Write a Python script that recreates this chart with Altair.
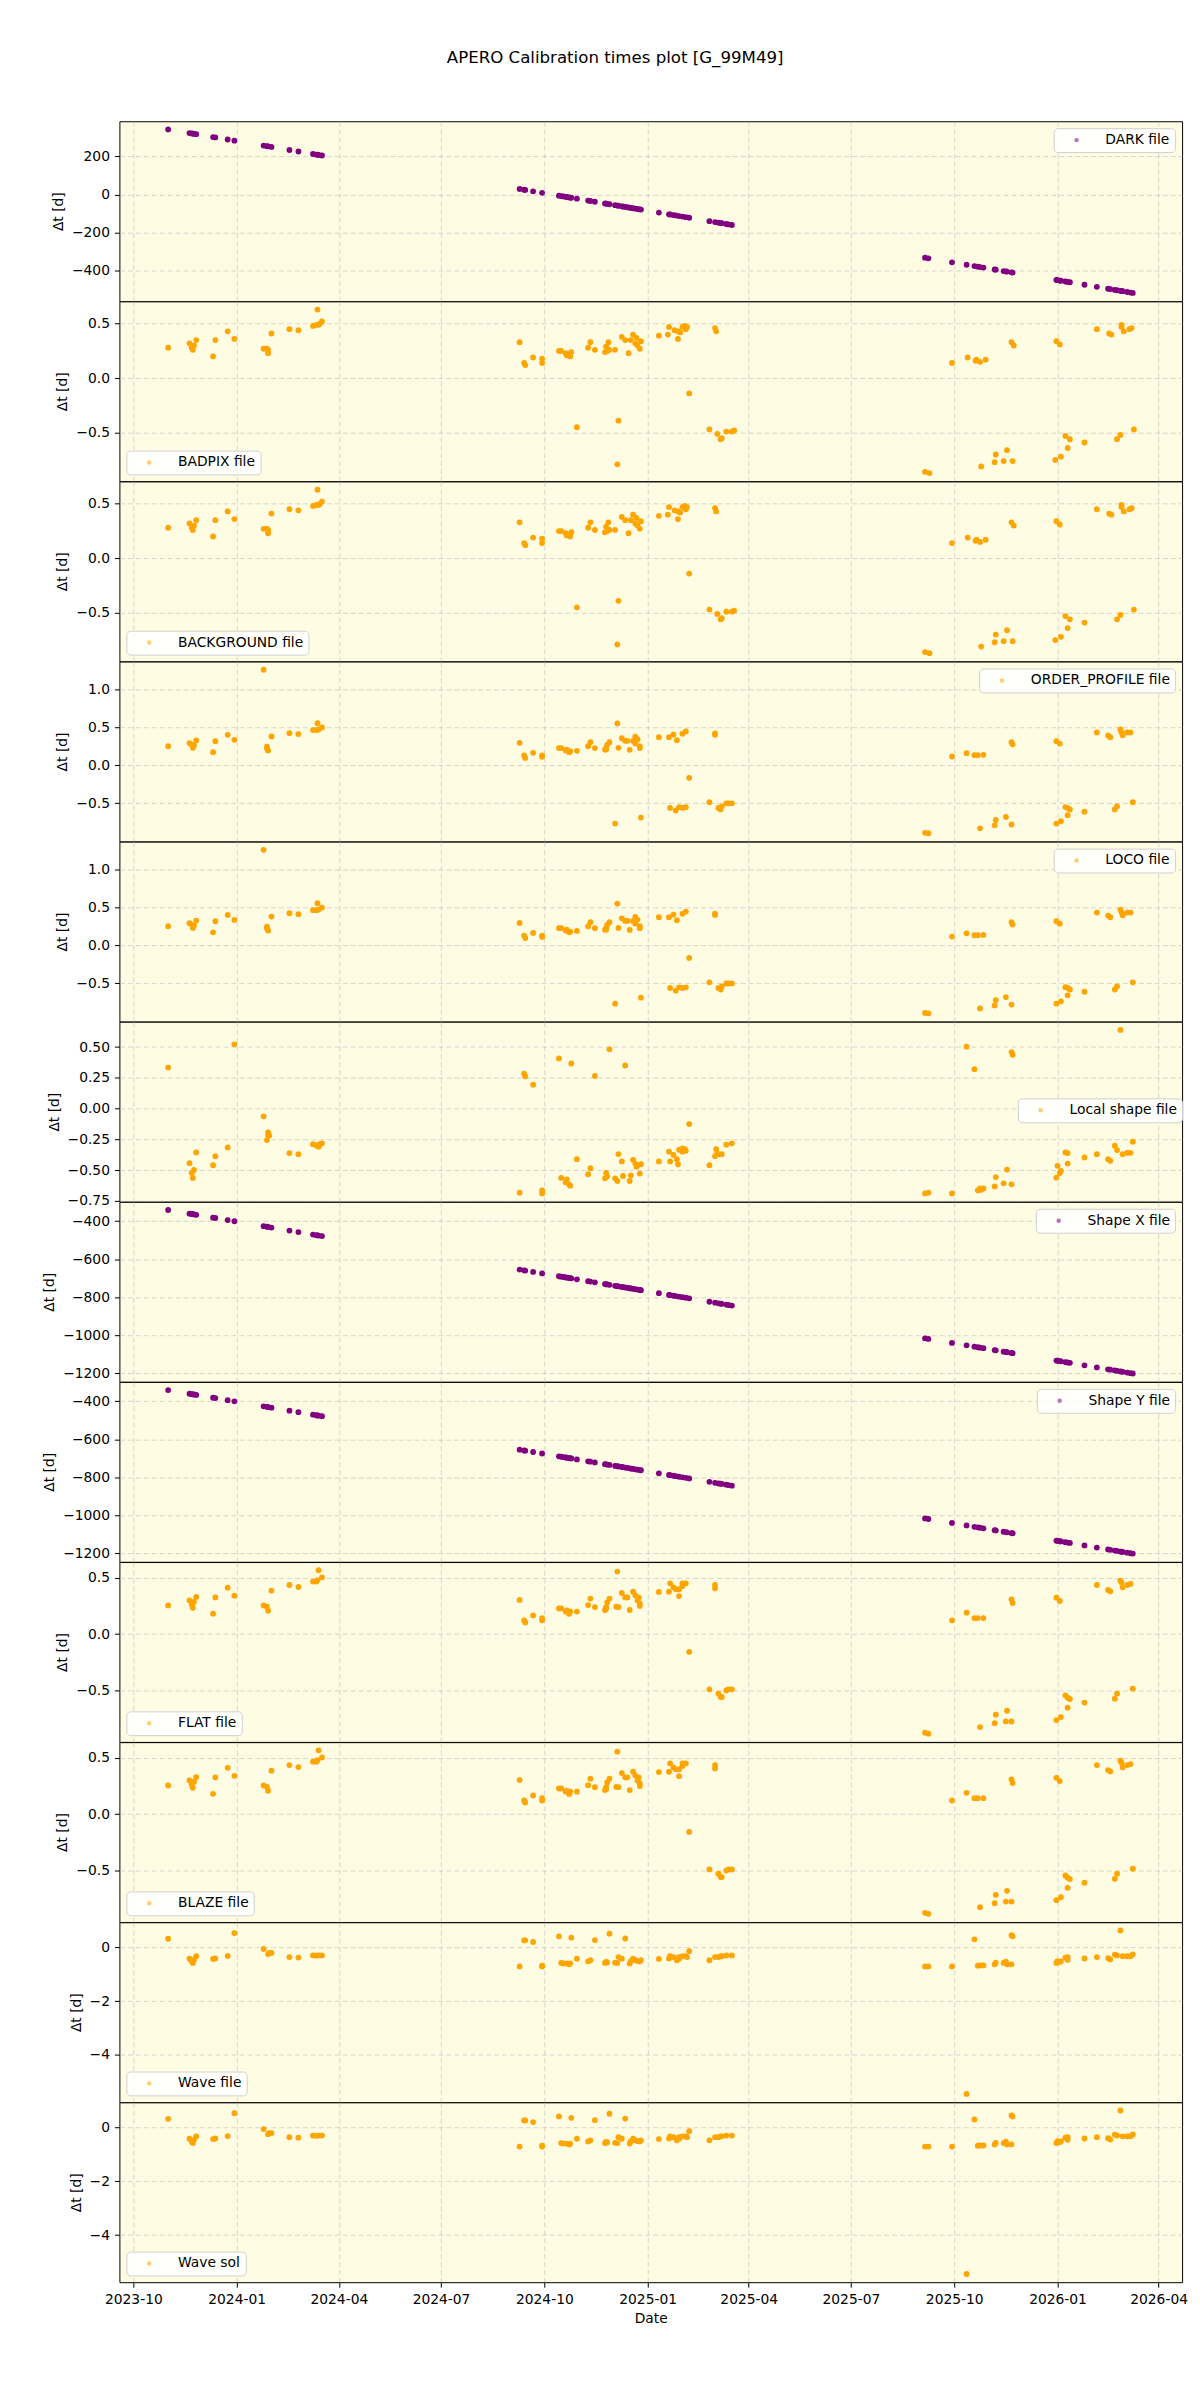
import altair as alt
import pandas as pd

EPOCH = "2023-10-01"          # day 0 of the day offsets below
TITLE = "APERO Calibration times plot [G_99M49]"
X_TICKS = ["2023-10", "2024-01", "2024-04", "2024-07", "2024-10", "2025-01",
           "2025-04", "2025-07", "2025-10", "2026-01", "2026-04"]

# (days since 2023-10-01, delta t [d])
DARK = [
    (31, 342), (50, 323), (52, 321), (53, 320), (54, 319), (56, 317), (71, 302), (73, 300), (84, 289),
    (90, 283), (116, 257), (119, 254), (120, 253), (123, 250), (139, 234), (147, 226), (160, 213),
    (163, 210), (164, 209), (165, 208), (168, 205),
    (344, 29), (348, 25), (349, 24), (356, 17), (364, 9), (379, -6), (381, -8), (383, -10), (385, -12),
    (386, -13), (388, -15), (389, -16), (390, -17), (395, -22), (405, -32), (407, -34), (411, -38),
    (420, -47), (421, -48), (422, -49), (424, -51), (429, -56), (431, -58), (432, -59), (435, -62),
    (436, -63), (438, -65), (440, -67), (442, -69), (443, -70), (445, -72), (447, -74), (449, -76),
    (451, -78), (452, -79), (468, -95), (477, -104), (478, -105), (481, -108), (483, -110), (486, -113),
    (489, -116), (492, -119), (495, -122), (513, -140), (518, -145), (521, -148), (523, -150),
    (524, -151), (528, -155), (530, -157), (533, -160),
    (705, -332), (708, -335), (729, -356), (742, -369), (749, -376), (752, -379), (754, -381),
    (757, -384), (767, -394), (768, -395), (775, -402), (777, -404), (778, -405), (782, -409),
    (783, -410), (822, -449), (823, -450), (825, -452), (826, -453), (830, -457), (832, -459),
    (834, -461), (847, -474), (858, -485), (868, -495), (870, -497), (874, -501), (876, -503),
    (879, -506), (880, -507), (881, -508), (885, -512), (888, -515), (890, -517),
]

BADPIX = [
    (31, 0.28), (50, 0.32), (52, 0.28), (53, 0.26), (54, 0.30), (56, 0.35), (71, 0.20), (73, 0.35),
    (84, 0.43), (90, 0.36), (116, 0.27), (119, 0.27), (120, 0.23), (120, 0.26), (123, 0.41),
    (139, 0.45), (147, 0.44), (160, 0.48), (163, 0.49), (164, 0.63), (165, 0.49), (166, 0.50),
    (168, 0.52),
    (344, 0.33), (348, 0.14), (349, 0.12), (356, 0.19), (364, 0.18), (364, 0.14), (379, 0.25),
    (381, 0.25), (385, 0.23), (386, 0.21), (388, 0.22), (389, 0.20), (390, 0.24), (395, -0.45),
    (405, 0.28), (407, 0.33), (411, 0.26), (420, 0.24), (421, 0.29), (422, 0.25), (423, 0.33),
    (424, 0.26), (429, 0.26), (431, -0.79), (432, -0.39), (435, 0.38), (438, 0.35), (441, 0.23),
    (443, 0.35), (445, 0.40), (447, 0.32), (448, 0.37), (449, 0.30), (451, 0.27), (452, 0.34),
    (468, 0.39), (476, 0.40), (477, 0.47), (482, 0.44), (485, 0.43), (485, 0.36), (487, 0.42),
    (489, 0.47), (491, 0.48), (492, 0.45), (493, 0.47), (495, -0.14), (513, -0.47), (518, 0.46),
    (519, 0.43), (520, -0.51), (523, -0.56), (524, -0.55), (528, -0.49), (533, -0.49), (535, -0.48),
    (705, -0.86), (709, -0.87), (729, 0.14), (743, 0.19), (750, 0.16), (751, 0.17), (754, 0.15),
    (755, -0.81), (759, 0.17), (767, -0.77), (768, -0.70), (775, -0.76), (778, -0.66), (782, 0.33),
    (783, -0.76), (784, 0.30), (821, -0.75), (822, 0.34), (825, 0.31), (826, -0.72), (830, -0.53),
    (832, -0.64), (834, -0.56), (847, -0.59), (858, 0.45), (869, 0.41), (871, 0.40), (876, -0.56),
    (879, -0.52), (880, 0.49), (880, 0.47), (882, 0.43), (887, 0.45), (889, 0.46), (891, -0.47),
]
BACKGROUND = BADPIX

ORDER_PROFILE = [
    (31, 0.256), (50, 0.296), (52, 0.278), (53, 0.234), (54, 0.265), (56, 0.331), (71, 0.176),
    (73, 0.322), (84, 0.406), (90, 0.34), (116, 1.266), (119, 0.25), (120, 0.20), (119, 0.225),
    (123, 0.384), (139, 0.428), (147, 0.415), (160, 0.468), (163, 0.468), (164, 0.56), (165, 0.476),
    (168, 0.503),
    (344, 0.30), (348, 0.132), (349, 0.10), (356, 0.168), (364, 0.132), (364, 0.115), (379, 0.23),
    (381, 0.23), (385, 0.20), (386, 0.21), (388, 0.176), (389, 0.185), (395, 0.194), (405, 0.256),
    (407, 0.309), (411, 0.23), (420, 0.21), (421, 0.23), (422, 0.273), (424, 0.309), (421, 0.21),
    (429, -0.768), (431, 0.556), (432, 0.234), (435, 0.36), (438, 0.326), (440, 0.326), (442, 0.207),
    (445, 0.326), (447, 0.38), (447, 0.29), (449, 0.344), (451, 0.256), (451, 0.23), (452, -0.688),
    (468, 0.375), (477, 0.375), (478, -0.56), (481, 0.41), (484, 0.335), (483, -0.595),
    (486, -0.551), (489, -0.56), (492, -0.551), (492, 0.45), (489, 0.42), (495, -0.163),
    (513, -0.485), (518, 0.423), (518, 0.405), (521, -0.56), (523, -0.58), (524, -0.54), (528, -0.5),
    (530, -0.5), (533, -0.5),
    (705, -0.89), (708, -0.895), (729, 0.119), (742, 0.163), (749, 0.137), (752, 0.137), (757, 0.141),
    (754, -0.83), (767, -0.79), (768, -0.72), (777, -0.68), (782, -0.78), (782, 0.309), (783, 0.28),
    (822, -0.768), (822, 0.322), (825, 0.29), (826, -0.737), (832, -0.657), (830, -0.55),
    (832, -0.56), (834, -0.58), (847, -0.61), (858, 0.437), (868, 0.397), (870, 0.375), (874, -0.58),
    (876, -0.54), (879, 0.476), (880, 0.44), (881, 0.40), (885, 0.437), (888, 0.437), (890, -0.485),
]
LOCO = ORDER_PROFILE

LOCAL_SHAPE = [
    (31, 0.333), (50, -0.444), (52, -0.524), (53, -0.564), (54, -0.499), (56, -0.357), (71, -0.461),
    (73, -0.387), (84, -0.316), (90, 0.522), (116, -0.063), (119, -0.256), (120, -0.193),
    (121, -0.22), (120, -0.22), (139, -0.362), (147, -0.371), (160, -0.29), (163, -0.30),
    (165, -0.31), (166, -0.29), (168, -0.283),
    (344, -0.684), (348, 0.284), (349, 0.262), (356, 0.194), (364, -0.665), (364, -0.69), (379, 0.407),
    (381, -0.564), (386, -0.575), (388, -0.616), (389, -0.627), (385, -0.60), (390, 0.366),
    (395, -0.412), (405, -0.534), (407, -0.485), (411, 0.265), (420, -0.567), (421, -0.523),
    (422, -0.551), (424, 0.481), (429, -0.567), (431, -0.589), (432, -0.37), (435, -0.43),
    (436, -0.548), (438, 0.35), (442, -0.589), (443, -0.543), (445, -0.417), (447, -0.447),
    (448, -0.474), (449, -0.46), (451, -0.529), (452, -0.453), (468, -0.43), (477, -0.351),
    (478, -0.43), (481, -0.376), (484, -0.412), (485, -0.453), (486, -0.335), (489, -0.324),
    (491, -0.33), (492, -0.343), (489, -0.351), (495, -0.126), (513, -0.46), (518, -0.387),
    (519, -0.33), (520, -0.365), (521, -0.371), (524, -0.371), (528, -0.294), (533, -0.283),
    (705, -0.69), (708, -0.684), (729, -0.69), (742, 0.503), (749, 0.32), (752, -0.665), (754, -0.649),
    (757, -0.649), (755, -0.66), (767, -0.633), (768, -0.557), (775, -0.608), (778, -0.496),
    (782, 0.459), (783, 0.437), (782, -0.616), (822, -0.562), (823, -0.466), (825, -0.524),
    (826, -0.507), (830, -0.357), (832, -0.362), (832, -0.447), (847, -0.398), (858, -0.371),
    (868, -0.412), (870, -0.425), (874, -0.302), (876, -0.338), (879, 0.639), (881, -0.371),
    (885, -0.36), (888, -0.36), (890, -0.27),
]

SHAPE_X = [
    (31, -342), (50, -361), (52, -363), (53, -364), (54, -365), (56, -367), (71, -382), (73, -384),
    (84, -395), (90, -401), (116, -427), (119, -430), (120, -431), (123, -434), (139, -450),
    (147, -458), (160, -471), (163, -474), (164, -475), (165, -476), (168, -479),
    (344, -655), (348, -659), (349, -660), (356, -667), (364, -675), (379, -690), (381, -692),
    (383, -694), (385, -696), (386, -697), (388, -699), (389, -700), (390, -701), (395, -706),
    (405, -716), (407, -718), (411, -722), (420, -731), (421, -732), (422, -733), (424, -735),
    (429, -740), (431, -742), (432, -743), (435, -746), (436, -747), (438, -749), (440, -751),
    (442, -753), (443, -754), (445, -756), (447, -758), (449, -760), (451, -762), (452, -763),
    (468, -779), (477, -788), (478, -789), (481, -792), (483, -794), (486, -797), (489, -800),
    (492, -803), (495, -806), (513, -824), (518, -829), (521, -832), (523, -834), (524, -835),
    (528, -839), (530, -841), (533, -844),
    (705, -1016), (708, -1019), (729, -1040), (742, -1053), (749, -1060), (752, -1063), (754, -1065),
    (757, -1068), (767, -1078), (768, -1079), (775, -1086), (777, -1088), (778, -1089), (782, -1093),
    (783, -1094), (822, -1133), (823, -1134), (825, -1136), (826, -1137), (830, -1141), (832, -1143),
    (834, -1145), (847, -1158), (858, -1169), (868, -1179), (870, -1181), (874, -1185), (876, -1187),
    (879, -1190), (880, -1191), (881, -1192), (885, -1196), (888, -1199), (890, -1201),
]
SHAPE_Y = SHAPE_X

FLAT = [
    (31, 0.255), (50, 0.30), (52, 0.264), (53, 0.234), (56, 0.33), (54, 0.288), (71, 0.181),
    (73, 0.326), (84, 0.412), (90, 0.341), (116, 0.255), (119, 0.243), (120, 0.208), (123, 0.386),
    (139, 0.436), (147, 0.418), (160, 0.466), (163, 0.466), (165, 0.567), (168, 0.504), (164, 0.48),
    (344, 0.303), (348, 0.122), (349, 0.104), (356, 0.166), (364, 0.142), (364, 0.122), (379, 0.228),
    (381, 0.228), (386, 0.21), (388, 0.18), (389, 0.20), (385, 0.20), (395, 0.20), (405, 0.258),
    (407, 0.315), (411, 0.24), (420, 0.214), (421, 0.24), (422, 0.282), (424, 0.315), (421, 0.222),
    (431, 0.555), (430, 0.243), (432, 0.24), (435, 0.365), (438, 0.326), (440, 0.326), (442, 0.214),
    (445, 0.377), (447, 0.344), (449, 0.30), (450, 0.326), (451, 0.25), (451, 0.273), (468, 0.374),
    (477, 0.377), (478, 0.451), (481, 0.415), (486, 0.338), (483, 0.398), (486, 0.398), (489, 0.451),
    (492, 0.451), (489, 0.427), (495, -0.157), (513, -0.49), (518, 0.436), (518, 0.406),
    (521, -0.528), (523, -0.558), (524, -0.558), (528, -0.50), (530, -0.49), (533, -0.49),
    (705, -0.875), (708, -0.884), (729, 0.122), (742, 0.19), (749, 0.142), (752, 0.142), (757, 0.142),
    (754, -0.825), (767, -0.79), (768, -0.715), (778, -0.68), (777, -0.775), (782, -0.775),
    (782, 0.309), (783, 0.276), (822, -0.763), (822, 0.323), (825, 0.294), (826, -0.736),
    (832, -0.653), (830, -0.543), (832, -0.564), (834, -0.576), (847, -0.608), (858, 0.436),
    (868, 0.392), (870, 0.38), (874, -0.573), (876, -0.528), (879, 0.475), (880, 0.457), (881, 0.415),
    (885, 0.436), (888, 0.445), (890, -0.484),
]
BLAZE = FLAT

WAVE = [
    (31, 0.32), (50, -0.42), (52, -0.52), (53, -0.58), (56, -0.33), (54, -0.46), (71, -0.43),
    (73, -0.41), (84, -0.32), (90, 0.53), (116, -0.06), (120, -0.25), (121, -0.21), (123, -0.21),
    (139, -0.36), (147, -0.38), (160, -0.30), (163, -0.31), (165, -0.30), (168, -0.30),
    (344, -0.71), (348, 0.26), (349, 0.26), (356, 0.20), (364, -0.68), (364, -0.71), (379, 0.41),
    (381, -0.58), (383, -0.60), (386, -0.60), (388, -0.63), (389, -0.60), (390, 0.36), (395, -0.42),
    (405, -0.52), (407, -0.48), (411, 0.27), (420, -0.58), (421, -0.54), (422, -0.56), (424, 0.51),
    (429, -0.57), (431, -0.58), (432, -0.36), (435, -0.42), (438, 0.33), (442, -0.60), (443, -0.51),
    (445, -0.42), (447, -0.48), (449, -0.51), (451, -0.52), (452, -0.48), (468, -0.43), (477, -0.41),
    (478, -0.33), (481, -0.36), (484, -0.48), (486, -0.42), (486, -0.36), (489, -0.33), (492, -0.33),
    (493, -0.36), (495, -0.14), (513, -0.48), (518, -0.36), (521, -0.36), (523, -0.33), (524, -0.33),
    (528, -0.30), (533, -0.30),
    (705, -0.71), (708, -0.71), (729, -0.71), (742, -5.45), (749, 0.30), (752, -0.68), (754, -0.67),
    (757, -0.67), (767, -0.63), (768, -0.57), (775, -0.58), (777, -0.53), (778, -0.63), (782, 0.45),
    (783, 0.41), (782, -0.63), (822, -0.58), (823, -0.51), (825, -0.54), (826, -0.52), (830, -0.38),
    (832, -0.36), (832, -0.46), (847, -0.41), (858, -0.36), (868, -0.40), (870, -0.45), (874, -0.27),
    (876, -0.30), (879, 0.63), (881, -0.33), (885, -0.33), (888, -0.33), (890, -0.26),
]
WAVE_SOL = WAVE

ORANGE = "#FFA500"
PURPLE = "#800080"
FONT = "DejaVu Sans"

# name, data, colour, y ticks, y format, legend placement
PANELS = [
    ("DARK file", DARK, PURPLE, [-400, -200, 0, 200], "d", "top-right"),
    ("BADPIX file", BADPIX, ORANGE, [-0.5, 0.0, 0.5], ".1f", "bottom-left"),
    ("BACKGROUND file", BACKGROUND, ORANGE, [-0.5, 0.0, 0.5], ".1f", "bottom-left"),
    ("ORDER_PROFILE file", ORDER_PROFILE, ORANGE, [-0.5, 0.0, 0.5, 1.0], ".1f", "top-right"),
    ("LOCO file", LOCO, ORANGE, [-0.5, 0.0, 0.5, 1.0], ".1f", "top-right"),
    ("Local shape file", LOCAL_SHAPE, ORANGE, [-0.75, -0.5, -0.25, 0.0, 0.25, 0.5], ".2f", "none"),
    ("Shape X file", SHAPE_X, PURPLE, [-1200, -1000, -800, -600, -400], "d", "top-right"),
    ("Shape Y file", SHAPE_Y, PURPLE, [-1200, -1000, -800, -600, -400], "d", "top-right"),
    ("FLAT file", FLAT, ORANGE, [-0.5, 0.0, 0.5], ".1f", "bottom-left"),
    ("BLAZE file", BLAZE, ORANGE, [-0.5, 0.0, 0.5], ".1f", "bottom-left"),
    ("Wave file", WAVE, ORANGE, [-4, -2, 0], "d", "bottom-left"),
    ("Wave sol", WAVE_SOL, ORANGE, [-4, -2, 0], "d", "bottom-left"),
]

W, H = 1068, 180.75
x_tick_values = [alt.DateTime(year=int(t[:4]), month=int(t[5:]), date=1, utc=True) for t in X_TICKS]
x_domain = [alt.DateTime(year=2023, month=9, date=18, hours=14, utc=True),
            alt.DateTime(year=2026, month=4, date=21, hours=22, utc=True)]
MINUS = "replace(datum.label, '-', '\u2212')"


def panel(name, pts, color, yticks, yfmt, lpos, last):
    df = pd.DataFrame(pts, columns=["day", "dt"])
    df["date"] = (pd.Timestamp(EPOCH) + pd.to_timedelta(df["day"], unit="D")).dt.strftime("%Y-%m-%d")
    df["series"] = name
    lo, hi = float(df["dt"].min()), float(df["dt"].max())
    r = hi - lo
    ydom = [lo - 0.05 * r, hi + 0.05 * r]

    xkw = dict(values=x_tick_values, grid=True,
               labelExpr="utcFormat(datum.value, '%Y-%m')")
    if last:
        xkw.update(labels=True, ticks=True, title="Date")
    else:
        xkw.update(labels=False, ticks=False, title=None, labelPadding=0, titlePadding=0)

    lkw = dict(title=None, orient=lpos)
    if lpos == "none":
        lkw.update(legendX=903, legendY=77)
    else:
        lkw.update(offset=7)

    return alt.Chart(df).mark_circle(size=34, opacity=1).encode(
        x=alt.X("date:T", scale=alt.Scale(type="utc", domain=x_domain), axis=alt.Axis(**xkw)),
        y=alt.Y("dt:Q", scale=alt.Scale(domain=ydom, nice=False, zero=False),
                axis=alt.Axis(values=yticks, format=yfmt, labelExpr=MINUS, title="\u0394t [d]")),
        color=alt.Color("series:N", scale=alt.Scale(domain=[name], range=[color]),
                        legend=alt.Legend(**lkw)),
    ).properties(width=W, height=H)


charts = [panel(*p, last=(i == len(PANELS) - 1)) for i, p in enumerate(PANELS)]

chart = alt.vconcat(*charts, spacing=0, bounds="flush").resolve_scale(
    y="independent", color="independent"
).resolve_legend(color="independent").properties(
    title=alt.TitleParams(TITLE, fontSize=16.7, font=FONT, fontWeight="normal",
                          anchor="middle", offset=54, color="black"),
    padding={"left": 42, "top": 44, "right": 12, "bottom": 10},
).configure_view(
    fill="#fefce2", stroke="black", strokeWidth=1
).configure_axis(
    labelFont=FONT, labelFontSize=13.9, labelColor="black",
    titleFont=FONT, titleFontSize=13.9, titleFontWeight="normal", titleColor="black",
    tickColor="black", tickSize=5, labelPadding=5, titlePadding=6,
    domain=False, gridColor="#b8b8c0", gridOpacity=0.7, gridDash=[5, 3], gridWidth=0.8,
).configure_legend(
    labelFont=FONT, labelFontSize=13.9, labelColor="black",
    fillColor="rgba(255,255,255,0.85)", strokeColor="#d0d0d0", cornerRadius=4,
    padding=5, symbolOffset=11, labelOffset=22, symbolSize=20, symbolOpacity=0.55,
    symbolType="circle", symbolStrokeWidth=0,
)

chart.save("out.html", embed_options={"renderer": "svg", "actions": False})
